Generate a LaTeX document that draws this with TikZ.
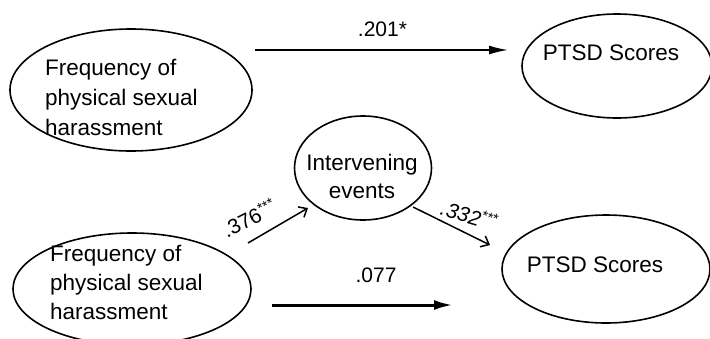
\documentclass[tikz,border=0pt]{standalone}
\usepackage{fontspec}
\setmainfont{Liberation Sans}
\usepackage{tikz}
\usetikzlibrary{shapes.geometric,arrows.meta}

\newcommand{\stars}{\raisebox{7pt}{\fontsize{14}{14}\selectfont ***}}

\begin{document}
\begin{tikzpicture}[
        x=1pt, y=-1pt, % 像素坐标
        oval/.style={draw, ellipse, line width=1.6pt, inner sep=0pt},
        txt/.style={inner sep=0pt, font=\fontsize{22.5}{30}\selectfont},
        lab/.style={inner sep=0pt, font=\fontsize{21}{22}\selectfont},
        thin arrow/.style={line width=1.6pt, -{Latex[length=19pt,width=9pt]}},
        thick arrow/.style={line width=3pt, -{Latex[length=19pt,width=10pt]}},
        path arrow/.style={line width=1.5pt, -{Straight Barb[length=7pt,width=12pt]}},
    ]
    \useasboundingbox (0,0) rectangle (710,338);
    % 上面的模型
    \node[oval, minimum width=242, minimum height=122] (harA) at (131,90) {};
    \node[txt, anchor=west, align=left] (harAtxt) at (45,97) {Frequency of\\physical sexual\\harassment};
    \node[oval, minimum width=190, minimum height=104] (ptsdA) at (617,66) {};
    \node[txt] (ptsdAtxt) at (611,53) {PTSD Scores};
    \coordinate (a1s) at (255,50);
    \coordinate (a1e) at (508,50);
    \draw[thin arrow] (a1s) -- (a1e) node[lab, midway, above=12pt, xshift=1pt] (c1) {.201*};
    % 下面的中介模型
    \node[oval, minimum width=137, minimum height=104] (iev) at (363,168) {};
    \node[txt, align=center, font=\fontsize{22.5}{28}\selectfont] (ievtxt) at (362,176) {Intervening\\events};
    \node[oval, minimum width=238, minimum height=112] (harB) at (132,289) {};
    \node[txt, anchor=west, align=left, font=\fontsize{22.5}{29}\selectfont] (harBtxt) at (50,282) {Frequency of\\physical sexual\\harassment};
    \node[oval, minimum width=208, minimum height=108] (ptsdB) at (606,269) {};
    \node[txt] (ptsdBtxt) at (595,265) {PTSD Scores};
    \coordinate (b1s) at (248,243);
    \coordinate (b1e) at (308,208);
    \coordinate (b2s) at (413,207);
    \coordinate (b2e) at (490,245);
    \coordinate (b3s) at (272,305);
    \coordinate (b3e) at (453,305);
    \draw[path arrow] (b1s) -- (b1e);
    \draw[path arrow] (b2s) -- (b2e);
    \draw[thick arrow] (b3s) -- (b3e);
    \node[lab, rotate=27] (c2) at (249,218) {.376\stars};
    \node[lab, rotate=-17] (c3) at (469,215) {\itshape .332\stars};
    \node[lab] (c4) at (376,275) {.077};
\end{tikzpicture}
\end{document}
